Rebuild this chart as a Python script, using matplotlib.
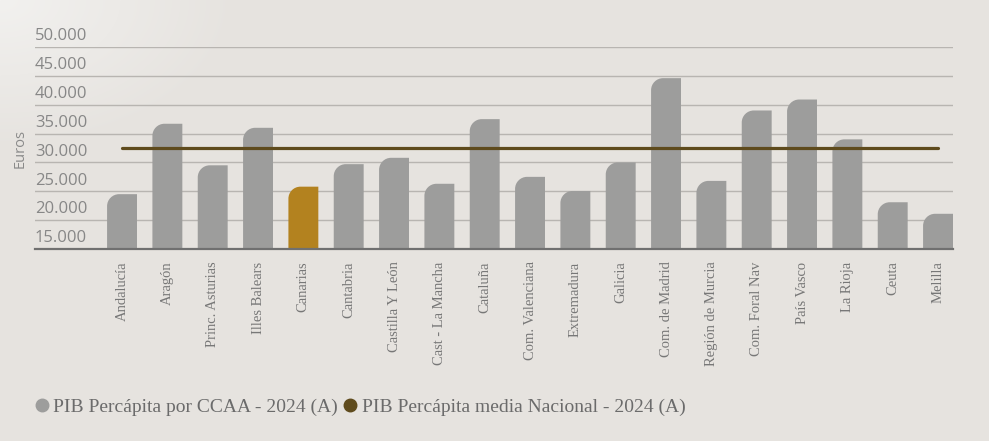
import numpy as np
import matplotlib
matplotlib.use("Agg")
import matplotlib.pyplot as plt
from matplotlib.path import Path
from matplotlib.patches import PathPatch
from matplotlib.lines import Line2D

# ---- data ----
regions = ["Andalucía", "Aragón", "Princ. Asturias", "Illes Balears", "Canarias",
           "Cantabria", "Castilla Y León", "Cast - La Mancha", "Cataluña",
           "Com. Valenciana", "Extremadura", "Galicia", "Com. de Madrid",
           "Región de Murcia", "Com. Foral Nav", "País Vasco", "La Rioja",
           "Ceuta", "Melilla"]
pib_pc = [24500, 36700, 29500, 36000, 25800, 29700, 30800, 26300, 37500,
          27500, 25050, 30000, 44600, 26800, 39000, 40900, 34000, 23100, 21100]
media_nacional = 32550
highlight = "Canarias"
yticks = [15000, 20000, 25000, 30000, 35000, 40000, 45000, 50000]
ytick_labels = ["15.000", "20.000", "25.000", "30.000", "35.000", "40.000", "45.000", "50.000"]
legend_labels = ["PIB Percápita por CCAA - 2024 (A)", "PIB Percápita media Nacional - 2024 (A)"]

BAR = "#9d9d9c"
HI = "#b3821f"
LINE = "#5f4b1d"
W, H = 989, 441

fig = plt.figure(figsize=(W / 100, H / 100), dpi=100)
fig.patch.set_facecolor("#e6e3df")

# background gradient (lighter top-left corner)
bg = fig.add_axes([0, 0, 1, 1], zorder=-10)
yy, xx = np.mgrid[0:H, 0:W]
d = np.sqrt((xx / 1.6) ** 2 + yy ** 2)
t = np.clip(d / 150.0, 0, 1)[..., None]
c0 = np.array([0xf2, 0xf1, 0xef]) / 255
c1 = np.array([0xe6, 0xe3, 0xdf]) / 255
img = c0 * (1 - t) + c1 * t
bg.imshow(img, aspect="auto", extent=(0, 1, 0, 1), origin="upper")
bg.axis("off")

left, right = 35 / W, 953 / W
bottom, top = 1 - 249 / H, 1 - 47 / H
ax = fig.add_axes([left, bottom, right - left, top - bottom])
ax.set_facecolor("none")

x = np.arange(len(regions))
colors = [HI if r == highlight else BAR for r in regions]
ax.set_xlim(-1.92, len(regions) - 1 + 0.33)
ax.set_ylim(yticks[0], yticks[-1])

bars = ax.bar(x, pib_pc, width=0.66, color=colors, zorder=2)

# round the top-left corner of each bar (radius in pixels)
R = 12.0
ax_w_px = (right - left) * W
ax_h_px = (top - bottom) * H
x0l, x1l = ax.get_xlim()
y0l, y1l = ax.get_ylim()
rx = R / ax_w_px * (x1l - x0l)
ry = R / ax_h_px * (y1l - y0l)
k = 0.552
for b in list(bars.patches):
    bx = float(b.get_x())
    bw = float(b.get_width())
    by = float(b.get_y())
    yt = by + float(b.get_height())
    x1 = bx + bw
    verts = np.array([(bx, by), (bx, yt - ry),
                      (bx, yt - ry + k * ry), (bx + rx - k * rx, yt), (bx + rx, yt),
                      (x1, yt), (x1, by), (bx, by)])
    codes = [Path.MOVETO, Path.LINETO, Path.CURVE4, Path.CURVE4, Path.CURVE4,
             Path.LINETO, Path.LINETO, Path.CLOSEPOLY]
    p = PathPatch(Path(verts, codes), facecolor=b.get_facecolor(), edgecolor="none",
                  zorder=2.5, transform=ax.transData)
    ax.add_artist(p)
    b.set_visible(False)

# national average line
ax.plot([x[0], x[-1]], [media_nacional, media_nacional], color=LINE, lw=2.3,
        solid_capstyle="round", zorder=3)

# gridlines
for v in yticks[1:]:
    ax.axhline(v, color="#b8b5b1", lw=1.0, zorder=1)
ax.axhline(yticks[0], color="#707070", lw=1.6, zorder=4, clip_on=False)

for s in ax.spines.values():
    s.set_visible(False)

# y tick labels above the gridlines
ax.set_yticks([])
for v, lab in zip(yticks, ytick_labels):
    ax.annotate(lab, xy=(0, v), xycoords=ax.get_yaxis_transform(),
                xytext=(0, 2.0), textcoords="offset points", ha="left", va="bottom",
                fontsize=12, color="#878787", family="Open Sans")

fig.text(20 / W, 1 - 148 / H, "Euros", rotation=90, ha="center", va="center",
         fontsize=10.5, color="#8a8a8a", family="Open Sans")

ax.set_xticks(x)
ax.set_xticklabels(regions, rotation=90, fontsize=10.5, color="#777777",
                   family="Liberation Serif", va="top", ha="center")
ax.tick_params(axis="x", length=0, pad=9)

handles = [Line2D([], [], ls="none", marker="o", markersize=9, color=BAR),
           Line2D([], [], ls="none", marker="o", markersize=9, color=LINE)]
fig.legend(handles, legend_labels, loc="center left",
           bbox_to_anchor=(35 / W, 1 - 407 / H), ncol=2, frameon=False,
           handlelength=0.75, handletextpad=0.2, columnspacing=0.25,
           borderpad=0, borderaxespad=0,
           prop={"family": "Liberation Serif", "size": 14},
           labelcolor="#6b6b6b")

fig.savefig("out.png", dpi=100, facecolor=fig.get_facecolor())
